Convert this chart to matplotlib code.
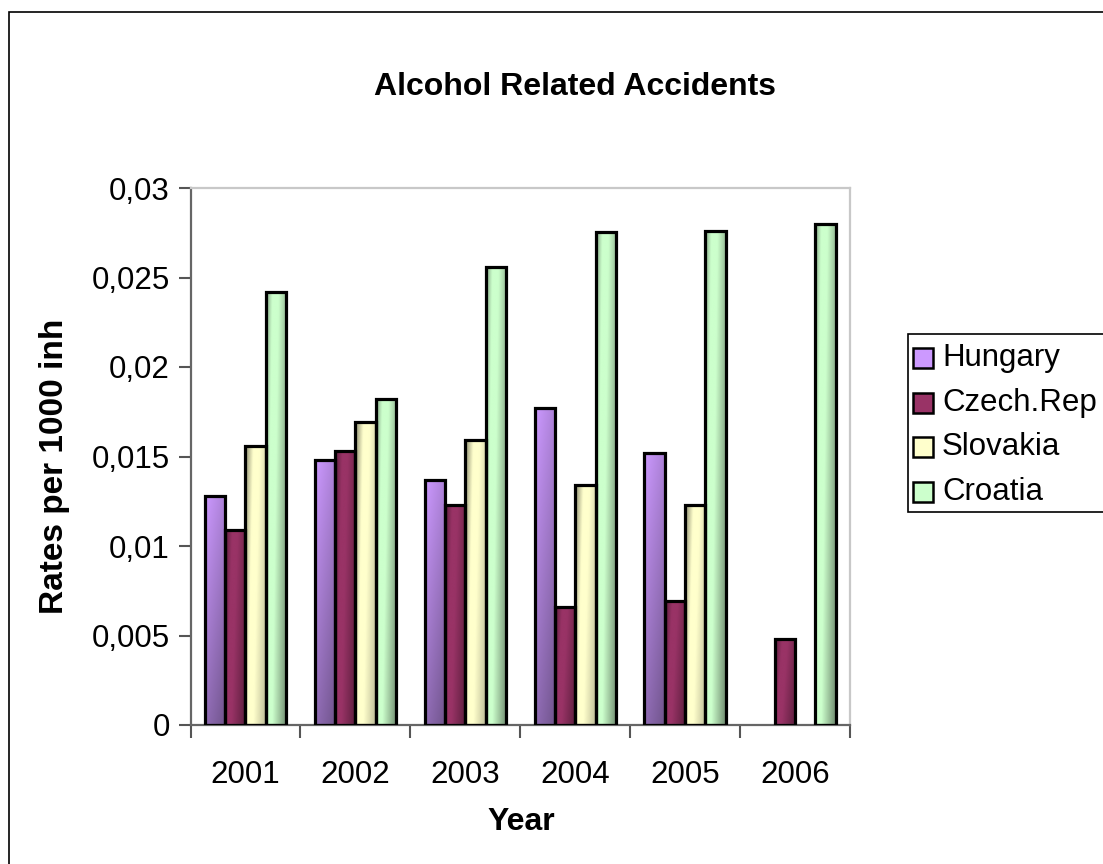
import numpy as np
import matplotlib
matplotlib.use("Agg")
import matplotlib.pyplot as plt
from matplotlib.patches import Rectangle

plt.rcParams['font.family'] = ['Liberation Sans', 'DejaVu Sans']

years = ['2001', '2002', '2003', '2004', '2005', '2006']
countries = ['Hungary', 'Czech.Rep', 'Slovakia', 'Croatia']
hungary = [0.0128, 0.0148, 0.0137, 0.0177, 0.0152, np.nan]
czech = [0.0109, 0.0153, 0.0123, 0.0066, 0.0069, 0.0048]
slovakia = [0.0156, 0.0169, 0.0159, 0.0134, 0.0123, np.nan]
croatia = [0.0242, 0.0182, 0.0256, 0.02756, 0.0276, 0.0280]
series = [hungary, czech, slovakia, croatia]
yticks = [0, 0.005, 0.01, 0.015, 0.02, 0.025, 0.03]
ytick_labels = ['0', '0,005', '0,01', '0,015', '0,02', '0,025', '0,03']

base_colors = ['#CC99FF', '#993366', '#FFFFCC', '#CCFFCC']


def shade(k, u, v):
    # darkness factor for the Excel-like gradient fill
    if k == 0:
        return 0.55 + 0.45 * (0.65 * v + 0.35 * (1 - u))
    p = u + 0.3 * (1 - v)
    if k == 1:
        return np.interp(p, [0, 0.35, 0.6, 1.3], [0.6, 1.0, 1.0, 0.6])
    if k == 2:
        return np.interp(p, [0, 0.4, 0.7, 1.3], [0.55, 1.0, 1.0, 0.75])
    return np.interp(p, [0, 0.3, 0.6, 1.3], [0.65, 1.0, 1.0, 0.55])


def gradient(k, nx=40, ny=60):
    u, v = np.meshgrid(np.linspace(0, 1, nx), np.linspace(0, 1, ny))
    f = np.clip(shade(k, u, v), 0, 1)
    rgb = np.array(matplotlib.colors.to_rgb(base_colors[k]))
    return f[..., None] * rgb[None, None, :]


fig = plt.figure(figsize=(11.03, 8.64), dpi=100)
ax = fig.add_axes([190.5 / 1103, 1 - 725 / 864, 659.5 / 1103, 537 / 864])

x = np.arange(len(years))
w = 0.185
for k, vals in enumerate(series):
    img = gradient(k)
    for i, val in enumerate(vals):
        if np.isnan(val):
            continue
        x0 = x[i] + (k - 2) * w
        bar = ax.bar(x0, val, width=w, align='edge', facecolor='none',
                     edgecolor='black', linewidth=2.3, zorder=3)[0]
        im = ax.imshow(img, extent=[x0, x0 + w, 0, val], origin='lower',
                       aspect='auto', interpolation='bilinear', zorder=2)
        im.set_clip_path(bar)

ax.set_xlim(-0.5, 5.5)
ax.set_ylim(0, 0.03)
ax.set_yticks(yticks)
ax.set_yticklabels(ytick_labels, fontsize=22.5)
ax.set_xticks(np.arange(-0.5, 6, 1))
ax.set_xticklabels([])
ax.set_xticks(x, minor=True)
ax.set_xticklabels(years, minor=True, fontsize=22.5)
ax.tick_params(axis='x', which='minor', length=0, pad=25)
ax.tick_params(axis='x', which='major', length=9, width=1.5, color='#555555')
ax.tick_params(axis='y', length=9, width=1.5, color='#555555', pad=6)

for s in ['left', 'bottom']:
    ax.spines[s].set_color('#666666')
    ax.spines[s].set_linewidth(1.6)
for s in ['top', 'right']:
    ax.spines[s].set_color('#C8C8C8')
    ax.spines[s].set_linewidth(1.6)

fig.text(575 / 1103, 1 - 95 / 864, 'Alcohol Related Accidents', ha='center',
         va='baseline', fontsize=23, fontweight='bold')
fig.text(521 / 1103, 1 - 822 / 864, 'Year', ha='center', va='center',
         fontsize=23, fontweight='bold')
fig.text(55 / 1103, 1 - 466 / 864, 'Rates per 1000 inh', ha='center', va='center',
         rotation=90, fontsize=24, fontweight='bold')

# legend box
fig.add_artist(Rectangle((908 / 1103, 1 - 512 / 864), 210 / 1103, 178 / 864,
                         transform=fig.transFigure, facecolor='white',
                         edgecolor='black', linewidth=1.2))
rows = [358, 403, 447, 492]
for k, name in enumerate(countries):
    yc = rows[k]
    fig.add_artist(Rectangle((913 / 1103, 1 - (yc + 10) / 864), 20 / 1103, 20 / 864,
                             transform=fig.transFigure,
                             facecolor=matplotlib.colors.to_rgb(base_colors[k]),
                             edgecolor='black', linewidth=1.8))
    fig.text(942 / 1103, 1 - yc / 864, name, ha='left', va='center', fontsize=22.5)

# chart area border
fig.add_artist(Rectangle((9 / 1103, -10 / 864), 1110 / 1103, 862 / 864,
                         transform=fig.transFigure, facecolor='none',
                         edgecolor='black', linewidth=1.2))

fig.savefig('out.png', dpi=100)
